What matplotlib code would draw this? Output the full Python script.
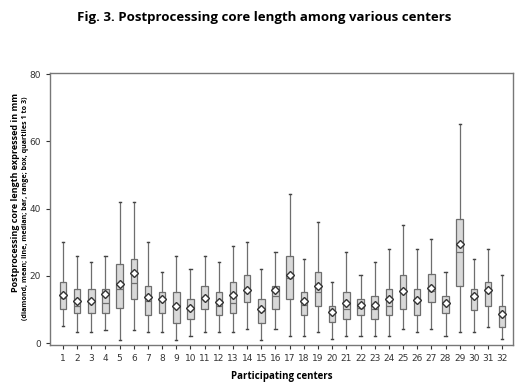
import matplotlib
matplotlib.use("Agg")
import matplotlib.pyplot as plt

centers = list(range(1, 33))
low = [5.2, 3.2, 3.2, 4.0, 1.0, 4.0, 3.2, 3.2, 1.0, 2.2, 3.2, 3.2, 3.2, 4.2, 1.0, 4.2,
       2.2, 2.2, 3.2, 1.2, 2.2, 2.2, 2.2, 2.2, 4.2, 3.2, 4.2, 2.0, 3.2, 3.2, 4.9, 1.2]
q1 = [10.0, 9.0, 9.0, 9.0, 10.5, 13.0, 8.2, 9.0, 6.0, 7.0, 10.1, 8.2, 9.0, 12.1, 6.0, 10.1,
      13.1, 8.2, 11.1, 6.2, 7.2, 8.2, 7.2, 8.2, 10.1, 8.2, 12.1, 8.9, 17.1, 9.9, 10.9, 4.9]
med = [13.5, 11.0, 12.4, 12.0, 16.0, 18.0, 12.5, 13.0, 11.0, 10.5, 13.5, 11.0, 12.0, 15.5, 9.5, 14.1,
       19.4, 11.4, 15.2, 9.0, 10.1, 10.4, 10.1, 10.9, 15.5, 12.9, 15.4, 11.9, 27.0, 13.9, 15.9, 8.0]
q3 = [18.1, 16.1, 16.0, 16.0, 23.5, 25.0, 17.1, 15.1, 15.1, 13.1, 17.1, 15.1, 18.1, 20.1, 13.1, 17.1,
      26.0, 15.1, 21.1, 11.1, 15.1, 13.1, 14.1, 16.1, 20.1, 16.1, 20.5, 14.1, 37.0, 16.1, 18.1, 11.1]
high = [30.1, 26.0, 24.0, 26.0, 42.0, 42.0, 30.1, 21.1, 26.0, 22.0, 26.0, 24.0, 29.0, 30.1, 22.0, 27.0,
        44.2, 25.1, 36.0, 18.1, 27.0, 20.1, 24.0, 28.0, 35.0, 28.0, 31.0, 21.0, 65.2, 25.0, 28.0, 20.1]
mean = [14.2, 12.4, 12.4, 14.7, 17.7, 20.7, 13.8, 13.1, 10.9, 10.5, 13.5, 12.3, 14.2, 15.7, 10.1, 15.7,
        20.3, 12.4, 16.9, 9.2, 11.9, 11.4, 11.4, 13.1, 15.5, 12.9, 16.5, 11.9, 29.6, 13.9, 15.9, 8.7]

stats = []
for i in range(len(centers)):
    stats.append({'whislo': low[i], 'q1': q1[i], 'med': med[i], 'q3': q3[i],
                  'whishi': high[i], 'mean': mean[i], 'fliers': []})

edge = '#6e6e6e'
fig = plt.figure(figsize=(5.2, 3.89), dpi=100)
ax = fig.add_axes([0.096, 0.113, 0.891, 0.699])

ax.bxp(stats, positions=centers, widths=0.46, patch_artist=True, showmeans=True,
       boxprops=dict(facecolor='#d9d9d9', edgecolor=edge, linewidth=0.9),
       medianprops=dict(color=edge, linewidth=0.9),
       whiskerprops=dict(color=edge, linewidth=0.9),
       capprops=dict(color='#444444', linewidth=1.0),
       capwidths=0.15,
       meanprops=dict(marker='D', markersize=4.5, markerfacecolor='white',
                      markeredgecolor='#333333', markeredgewidth=1.0))

ax.set_xlim(0.08, 32.78)
ax.set_ylim(-0.6, 80.3)
ax.set_yticks([0, 20, 40, 60, 80])
ax.set_xticks(centers)
ax.set_xticklabels([str(c) for c in centers])
ax.tick_params(labelsize=6.5, colors='#333333', length=3, width=0.8)
for s in ax.spines.values():
    s.set_color('#777777')
    s.set_linewidth(1.0)

fig.text(0.508, 0.955, 'Fig. 3. Postprocessing core length among various centers',
         ha='center', va='center', fontsize=9.5, fontweight='bold', family='Open Sans')
ax.set_xlabel('Participating centers', fontsize=7, fontweight='bold', family='Open Sans', labelpad=6)
fig.text(0.029, 0.504, 'Postprocessing core length expressed in mm', rotation=90,
         ha='center', va='center', fontsize=6.5, fontweight='bold', family='Open Sans')
fig.text(0.049, 0.465, '(diamond, mean; line, median; bar, range; box, quartiles 1 to 3)', rotation=90,
         ha='center', va='center', fontsize=5.1, fontweight='bold', family='Open Sans')

fig.savefig('out.png', dpi=100)
